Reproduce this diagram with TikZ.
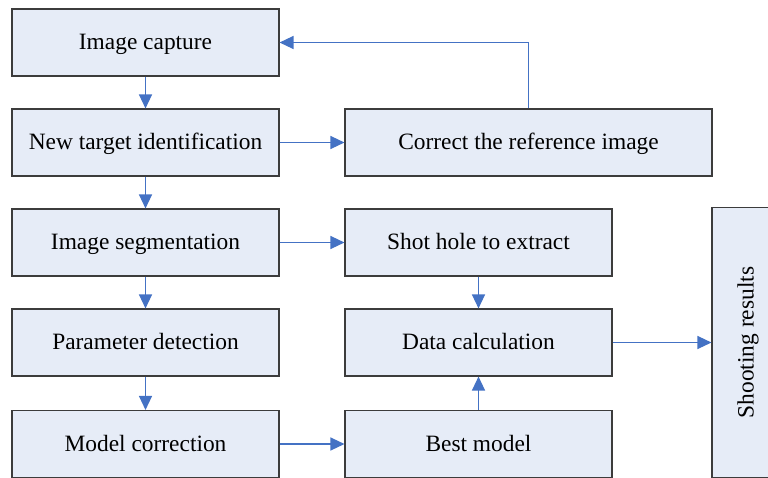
\documentclass[tikz,border=0pt]{standalone}
\usepackage{fontspec}
\setmainfont{Liberation Serif}
\usetikzlibrary{arrows.meta}
\definecolor{boxfill}{RGB}{230,236,247}
\definecolor{boxline}{RGB}{60,60,60}
\definecolor{arrblue}{RGB}{68,114,196}
\tikzset{
  stepbox/.style={draw=boxline, line width=1.1pt, fill=boxfill, inner sep=0pt,
    minimum width=267pt, minimum height=67pt, text height=19pt, text depth=5pt,
    font=\fontsize{23.4}{28}\selectfont},
  arr/.style={draw=arrblue, line width=1.3pt, -{Triangle[length=14pt,width=13pt]}}
}
\begin{document}
\begin{tikzpicture}[x=1pt,y=-1pt]
\useasboundingbox (0,0) rectangle (768,477);
\clip (0,0) rectangle (768,477);
\node[stepbox] (cap) at (145.5,42.5) {Image capture};
\node[stepbox] (ntid) at (145.5,142.5) {New target identification};
\node[stepbox] (seg) at (145.5,242.5) {Image segmentation};
\node[stepbox] (par) at (145.5,342.5) {Parameter detection};
\node[stepbox] (mod) at (145.5,444) {Model correction};
\node[stepbox, minimum width=367pt] (corr) at (528.5,142.5) {Correct the reference image};
\node[stepbox] (shot) at (478.5,242.5) {Shot hole to extract};
\node[stepbox] (data) at (478.5,342.5) {Data calculation};
\node[stepbox] (best) at (478.5,444) {Best model};
\node[stepbox, rotate=90, minimum width=270pt, minimum height=69pt] (res) at (746.5,342.5) {Shooting results};
\draw[arr] (cap) -- (ntid);
\draw[arr] (ntid) -- (seg);
\draw[arr] (seg) -- (par);
\draw[arr] (par) -- (mod);
\draw[arr] (ntid) -- (corr);
\draw[arr] (seg) -- (shot);
\draw[arr] (mod) -- (best);
\draw[arr] (shot) -- (data);
\draw[arr] (best) -- (data);
\draw[arr] (data) -- (res);
\draw[arr] (corr.north) |- (cap.east);
\end{tikzpicture}
\end{document}
